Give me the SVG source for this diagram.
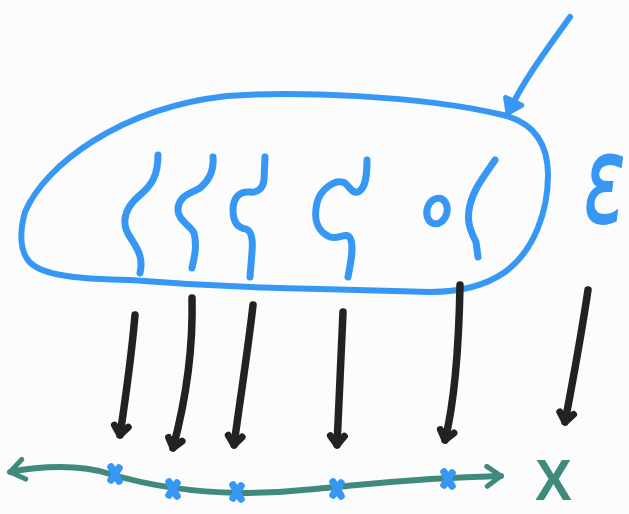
<svg xmlns="http://www.w3.org/2000/svg" width="629" height="514" viewBox="0 0 629 514">
<style>
.blue{fill:none;stroke:#3797f5;stroke-width:6;stroke-linecap:round;stroke-linejoin:round}
.sq{fill:none;stroke:#3797f5;stroke-width:7;stroke-linecap:round;stroke-linejoin:round}
.blk{fill:none;stroke:#222;stroke-width:7.5;stroke-linecap:round;stroke-linejoin:round;marker-end:url(#ah-black)}
.teal{fill:none;stroke:#3f897d;stroke-width:6;stroke-linecap:round;stroke-linejoin:round}
.xm{fill:none;stroke:#3797f5;stroke-width:7.5;stroke-linecap:round}
</style>
<defs>
<marker id="ah-black" viewBox="-14 -12 18 24" refX="0" refY="0" markerWidth="18" markerHeight="24" markerUnits="userSpaceOnUse" orient="auto">
<path d="M-9,-7 L0,0 L-9,7" fill="none" stroke="#222" stroke-width="7" stroke-linecap="round" stroke-linejoin="round"/>
</marker>
<marker id="ah-teal" viewBox="-18 -15 22 30" refX="0" refY="0" markerWidth="22" markerHeight="30" markerUnits="userSpaceOnUse" orient="auto-start-reverse">
<path d="M-14,-10 L0,0 L-14,10" fill="none" stroke="#3f897d" stroke-width="5" stroke-linecap="round" stroke-linejoin="round"/>
</marker>
<marker id="ah-blue" viewBox="-18 -14 22 28" refX="0" refY="0" markerWidth="22" markerHeight="28" markerUnits="userSpaceOnUse" orient="auto">
<path d="M-13,-9 L0,0 L-13,9 Z" fill="#3797f5" stroke="#3797f5" stroke-width="5" stroke-linejoin="round"/>
</marker>
<g id="xmark"><path class="xm" d="M-4,-7 L4,7 M4,-6 L-4,6"/></g>
</defs>
<rect width="629" height="514" fill="#fcfcfd"/>
<g id="blob">
<path class="blue" d="M227,96 C290,91 420,95 503,115 C535,123 548,145 548,175 C548,210 535,250 505,272 C485,286 460,292 430,292 L320,289 C250,288 180,284 130,280 C80,279 48,276 33,265 C18,254 20,230 25,212 C45,165 120,108 227,96 Z"/>
</g>
<g id="pointer">
<path class="blue" style="marker-end:url(#ah-blue)" d="M570,17 C548,48 525,78 508,113"/>
</g>
<g id="squiggles">
<path class="sq" d="M158,155 C158,175 152,185 140,195 C122,210 122,225 130,237 C140,252 143,260 140,273"/>
<path class="sq" d="M213,157 C214,170 210,180 200,188 C190,194 180,195 178,208 C177,220 190,225 194,233 C197,245 195,255 192,268"/>
<path class="sq" d="M265,157 L264,180 C263,188 258,193 250,192 C240,191 233,197 233,210 C233,222 238,228 246,229 C252,231 253,240 252,252 L250,277"/>
<path class="sq" d="M367,160 C367,175 366,188 358,192 C352,194 349,186 345,183 C335,178 320,190 317,203 C313,220 318,232 330,237 C340,240 347,230 351,240 C354,250 350,265 348,277"/>
<ellipse class="sq" cx="437" cy="211" rx="10" ry="13" transform="rotate(15 437 211)"/>
<path class="sq" d="M495,160 C485,175 474,188 470,205 C466,220 470,230 476,242 L478,257"/>
</g>
<g id="epsilon">
<text transform="translate(584,222) scale(1,1.6)" font-family="DejaVu Sans, sans-serif" font-size="76" font-style="italic" fill="#3797f5" stroke="#3797f5" stroke-width="1.2">ε</text>
</g>
<g id="connectors">
<path class="blk" d="M135,315 C132,350 126,395 120,435"/>
<path class="blk" d="M192,298 C193,340 188,392 173,448"/>
<path class="blk" d="M253,305 C248,350 240,400 234,445"/>
<path class="blk" d="M343,312 C341,360 339,400 337,445"/>
<path class="blk" d="M460,285 C459,340 455,400 445,440"/>
<path class="blk" d="M588,290 C582,330 573,380 565,422"/>
</g>
<g id="axis">
<path class="teal" style="marker-start:url(#ah-teal);marker-end:url(#ah-teal)" d="M10,472 C40,466 80,464 110,474 C150,486 190,492 240,493 C290,493 310,489 337,487 C380,483 420,478 501,476"/>
<use href="#xmark" x="115" y="474"/>
<use href="#xmark" x="173" y="489"/>
<use href="#xmark" x="237" y="492"/>
<use href="#xmark" x="337" y="489"/>
<use href="#xmark" x="448" y="479"/>
</g>
<g id="x-label">
<text transform="translate(535,500) scale(1.15,1.2)" font-family="Liberation Sans, sans-serif" font-size="48" font-weight="bold" fill="#3f897d">X</text>
</g>
</svg>
